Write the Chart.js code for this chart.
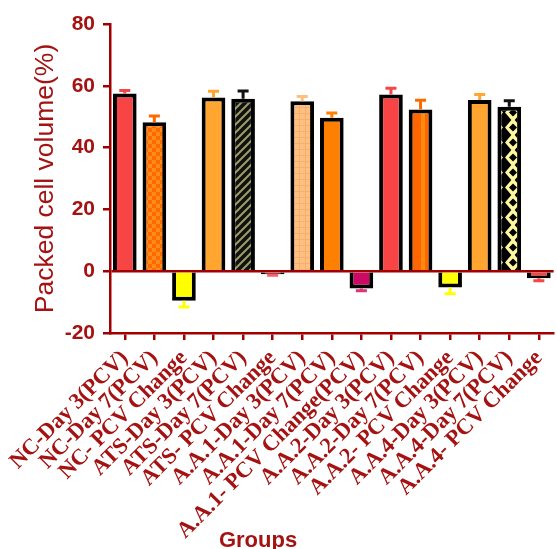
<!DOCTYPE html>
<html>
<head>
<meta charset="utf-8">
<script src="https://cdn.jsdelivr.net/npm/chart.js@4"></script>
<style>
  html, body { margin: 0; padding: 0; background: #fff; overflow: hidden; }
  #wrap { width: 563px; height: 549px; }
</style>
</head>
<body>
<div id="wrap"><canvas id="chart"></canvas></div>
<script>
const groups = [
  'NC-Day 3(PCV)', 'NC-Day 7(PCV)', 'NC- PCV Change',
  'ATS-Day 3(PCV)', 'ATS-Day 7(PCV)', 'ATS- PCV Change',
  'A.A.1-Day 3(PCV)', 'A.A.1-Day 7(PCV)', 'A.A.1- PCV Change(PCV)',
  'A.A.2-Day 3(PCV)', 'A.A.2-Day 7(PCV)', 'A.A.2- PCV Change',
  'A.A.4-Day 3(PCV)', 'A.A.4-Day 7(PCV)', 'A.A.4- PCV Change'
];
const pcv = [57.5, 48.2, -9.6, 56.2, 55.8, -1.0, 55.0, 49.7, -5.6, 57.2, 52.3, -5.3, 55.4, 53.2, -2.3];
const sem = [1.0, 2.0, 2.0, 2.0, 2.5, 0.3, 1.5, 1.5, 0.7, 2.0, 3.0, 2.0, 1.8, 2.0, 0.8];
const yTicks = [-20, 0, 20, 40, 60, 80];

const axisRed = '#a00000';
const textRed = '#a51212';

function tile(w, h, draw) {
  const c = document.createElement('canvas');
  c.width = w; c.height = h;
  draw(c.getContext('2d'));
  return document.createElement('canvas').getContext('2d').createPattern(c, 'repeat');
}

const checker = tile(8, 8, g => {
  g.fillStyle = '#ff6a00'; g.fillRect(0, 0, 8, 8);
  g.fillStyle = '#ff8c1a'; g.fillRect(0, 0, 4, 4); g.fillRect(4, 4, 4, 4);
});
const hatch = tile(8, 8, g => {
  g.fillStyle = '#111'; g.fillRect(0, 0, 8, 8);
  g.strokeStyle = '#9c9c66'; g.lineWidth = 2;
  g.beginPath();
  g.moveTo(0, 8); g.lineTo(8, 0);
  g.moveTo(-4, 4); g.lineTo(4, -4);
  g.moveTo(4, 12); g.lineTo(12, 4);
  g.stroke();
});
const peachGrid = tile(6, 6, g => {
  g.fillStyle = '#ffbf80'; g.fillRect(0, 0, 6, 6);
  g.fillStyle = '#f5b070'; g.fillRect(0, 5, 6, 1); g.fillRect(5, 0, 1, 6);
});
const stripes = tile(18, 4, g => {
  g.fillStyle = '#ff6600'; g.fillRect(0, 0, 18, 4);
  g.fillStyle = '#ff8a10'; g.fillRect(7, 0, 4, 4);
});
const chain = tile(18, 15, g => {
  g.fillStyle = '#000'; g.fillRect(0, 0, 18, 15);
  g.fillStyle = '#fff8a0';
  g.beginPath();
  g.moveTo(9, -2); g.lineTo(17, 7.5); g.lineTo(9, 17); g.lineTo(1, 7.5); g.closePath();
  g.fill();
  g.fillStyle = '#000';
  g.beginPath();
  g.moveTo(9, 3.5); g.lineTo(13, 7.5); g.lineTo(9, 11.5); g.lineTo(5, 7.5); g.closePath();
  g.fill();
});

const fills = [
  '#f74545', checker, '#ffff00',
  '#ffa530', hatch, '#f74545',
  peachGrid, '#ff8000', '#cc0a66',
  '#f74545', stripes, '#ffff00',
  '#ffa530', chain, '#f74545'
];
const errColors = [
  '#f74545', '#ff6a00', '#ffff00',
  '#ffa530', '#111111', '#f76070',
  '#ffbf80', '#ff8000', '#dd3377',
  '#f74545', '#ff6a00', '#ffff00',
  '#ffa530', '#111111', '#f74545'
];

const errorBars = {
  id: 'errorBars',
  afterDatasetsDraw(chart) {
    const ctx = chart.ctx;
    const y = chart.scales.y;
    const meta = chart.getDatasetMeta(0);
    ctx.save();
    meta.data.forEach((bar, i) => {
      const v = pcv[i];
      const end = v >= 0 ? v + sem[i] : v - sem[i];
      const y0 = y.getPixelForValue(v);
      const y1 = y.getPixelForValue(end);
      ctx.strokeStyle = errColors[i];
      ctx.lineWidth = 3;
      ctx.beginPath();
      ctx.moveTo(bar.x, y0);
      ctx.lineTo(bar.x, y1);
      ctx.moveTo(bar.x - 5.5, y1);
      ctx.lineTo(bar.x + 5.5, y1);
      ctx.stroke();
    });
    ctx.restore();
  }
};

const groupsTitle = {
  id: 'groupsTitle',
  afterDraw(chart) {
    const ctx = chart.ctx;
    ctx.save();
    ctx.fillStyle = textRed;
    ctx.font = 'bold 22px "Liberation Sans", Arial, sans-serif';
    ctx.textAlign = 'center';
    ctx.textBaseline = 'alphabetic';
    ctx.fillText('Groups', 258, 547);
    ctx.restore();
  }
};

new Chart(document.getElementById('chart'), {
  type: 'bar',
  data: {
    labels: groups,
    datasets: [{
      data: pcv,
      backgroundColor: fills,
      borderColor: '#000',
      borderWidth: 4,
      barPercentage: 0.8,
      categoryPercentage: 1
    }]
  },
  options: {
    responsive: true,
    maintainAspectRatio: false,
    animation: false,
    layout: { padding: { top: 24, right: 2, left: 0, bottom: 0 } },
    plugins: { legend: { display: false }, tooltip: { enabled: false } },
    scales: {
      x: {
        afterFit: s => { s.height = 216; },
        border: { color: axisRed, width: 2.5 },
        grid: { offset: false, drawOnChartArea: false, tickColor: axisRed, tickLength: 7, lineWidth: 2.5 },
        ticks: {
          autoSkip: false, maxRotation: 45, minRotation: 45, padding: 5,
          color: textRed,
          font: { family: '"Liberation Serif", "Times New Roman", serif', size: 22.5, weight: 'bold' }
        }
      },
      y: {
        min: -20, max: 80,
        afterFit: s => { s.width = 110; },
        afterBuildTicks: s => { s.ticks = yTicks.map(v => ({ value: v })); },
        border: { color: axisRed, width: 2.5 },
        grid: {
          color: c => c.tick && c.tick.value === 0 ? axisRed : 'rgba(0,0,0,0)',
          lineWidth: 2.5, tickColor: axisRed, tickLength: 7
        },
        ticks: {
          padding: 8, color: textRed,
          font: { family: '"Liberation Sans", Arial, sans-serif', size: 21, weight: 'bold' }
        },
        title: {
          display: true, text: 'Packed cell volume(%)', color: textRed,
          padding: { top: 30, bottom: 0 },
          font: { family: '"Liberation Sans", Arial, sans-serif', size: 26.5 }
        }
      }
    }
  },
  plugins: [errorBars, groupsTitle]
});
</script>
</body>
</html>
